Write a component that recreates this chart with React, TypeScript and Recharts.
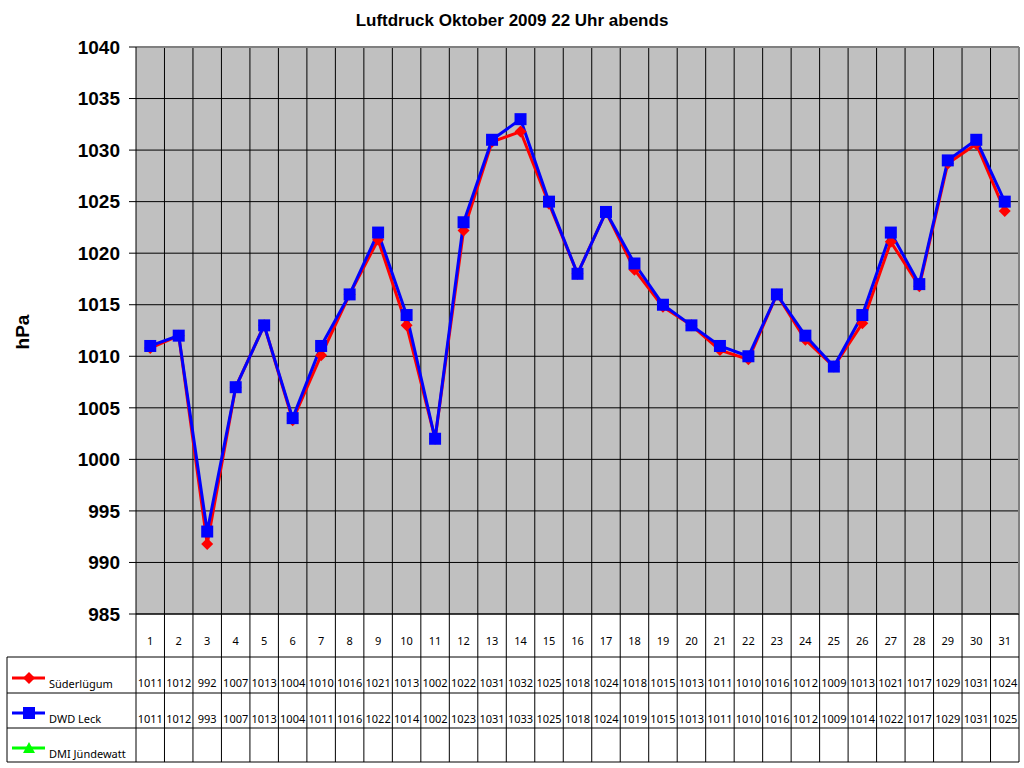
import React from 'react'
import { LineChart, Line, XAxis, YAxis, CartesianGrid, ReferenceLine } from 'recharts'

const days = [1, 2, 3, 4, 5, 6, 7, 8, 9, 10, 11, 12, 13, 14, 15, 16, 17, 18, 19, 20, 21, 22, 23, 24, 25, 26, 27, 28, 29, 30, 31]

const suederluegum = [
  1010.8, 1012, 991.8, 1007, 1013, 1003.8, 1010.1, 1016, 1021.3, 1013, 1002, 1022.2, 1030.8, 1031.8, 1024.8, 1018,
  1024, 1018.4, 1014.8, 1013, 1010.6, 1009.7, 1016, 1011.6, 1009, 1013.2, 1021.1, 1016.8, 1028.7, 1030.6, 1024.1,
]

const dwdLeck = [
  1011, 1012, 993, 1007, 1013, 1004, 1011, 1016, 1022, 1014, 1002, 1023, 1031, 1033, 1025, 1018,
  1024, 1019, 1015, 1013, 1011, 1010, 1016, 1012, 1009, 1014, 1022, 1017, 1029, 1031, 1025,
]

const dmiJuendewatt: (number | null)[] = days.map(() => null)

const yTicks = [985, 990, 995, 1000, 1005, 1010, 1015, 1020, 1025, 1030, 1035, 1040]
const dayEdges = [1.5, 2.5, 3.5, 4.5, 5.5, 6.5, 7.5, 8.5, 9.5, 10.5, 11.5, 12.5, 13.5, 14.5, 15.5, 16.5, 17.5, 18.5, 19.5, 20.5, 21.5, 22.5, 23.5, 24.5, 25.5, 26.5, 27.5, 28.5, 29.5, 30.5]

const title = 'Luftdruck Oktober 2009 22 Uhr abends'

const chartData = days.map((day, i) => ({
  day,
  suederluegum: suederluegum[i],
  dwdLeck: dwdLeck[i],
  dmiJuendewatt: dmiJuendewatt[i],
}))

const series = [
  { key: 'suederluegum', name: 'Süderlügum', color: '#ff0000', marker: 'diamond' },
  { key: 'dwdLeck', name: 'DWD Leck', color: '#0000ff', marker: 'square' },
  { key: 'dmiJuendewatt', name: 'DMI Jündewatt', color: '#00ff00', marker: 'triangle' },
]

const W = 1024
const H = 768
const PLOT_LEFT = 136
const PLOT_RIGHT = 1019
const CELL = (PLOT_RIGHT - PLOT_LEFT) / days.length
const TABLE_FONT = '"Noto Sans", sans-serif'

function Marker({ type, cx, cy, color }: { type: string; cx: number; cy: number; color: string }) {
  if (cx == null || cy == null) return null
  if (type === 'square') return <rect x={cx - 6} y={cy - 6} width={12} height={12} fill={color} />
  if (type === 'diamond')
    return <polygon points={`${cx},${cy - 6} ${cx + 6},${cy} ${cx},${cy + 6} ${cx - 6},${cy}`} fill={color} />
  return <polygon points={`${cx},${cy - 6} ${cx + 6},${cy + 5} ${cx - 6},${cy + 5}`} fill={color} />
}

// table below the plot, drawn per day from the x axis ticks
function TableTick(props: any) {
  const { x, y, index } = props
  const top = y
  const bottom = y + 148
  const rows = [top + 43, top + 79, top + 114]
  const left = x - CELL / 2
  return (
    <g>
      <line x1={left} y1={top} x2={left} y2={bottom} stroke="#000" />
      {index === days.length - 1 && <line x1={left + CELL} y1={top} x2={left + CELL} y2={bottom} stroke="#000" />}
      <text x={x} y={top + 31} textAnchor="middle" fontSize={11} fontFamily={TABLE_FONT} fill="#000">
        {days[index]}
      </text>
      <text x={x} y={top + 73} textAnchor="middle" fontSize={11} fontFamily={TABLE_FONT} fill="#000">
        {Math.round(suederluegum[index])}
      </text>
      <text x={x} y={top + 109} textAnchor="middle" fontSize={11} fontFamily={TABLE_FONT} fill="#000">
        {dwdLeck[index]}
      </text>
      {index === 0 && (
        <g>
          {rows.map((ry) => (
            <line key={ry} x1={7} y1={ry} x2={PLOT_RIGHT} y2={ry} stroke="#000" />
          ))}
          <line x1={7} y1={top + 43} x2={7} y2={bottom} stroke="#000" />
          <line x1={7} y1={bottom} x2={PLOT_RIGHT} y2={bottom} stroke="#000" />
          {series.map((s, i) => {
            const ly = top + 64 + i * 35
            return (
              <g key={s.key}>
                <line x1={12} y1={ly} x2={45} y2={ly} stroke={s.color} strokeWidth={3} />
                <Marker type={s.marker} cx={29} cy={ly} color={s.color} />
                <text x={49} y={ly + 10} fontSize={11} fontFamily={TABLE_FONT} fill="#000">
                  {s.name}
                </text>
              </g>
            )
          })}
        </g>
      )}
    </g>
  )
}

export default function App() {
  return (
    <div style={{ position: 'absolute', left: 0, top: 0, width: W, height: H, background: '#fff' }}>
      <div
        style={{
          position: 'absolute',
          top: 11,
          left: 0,
          width: W,
          textAlign: 'center',
          fontFamily: '"Liberation Sans", Arial, sans-serif',
          fontWeight: 'bold',
          fontSize: 17,
          color: '#000',
        }}
      >
        {title}
      </div>
      <div
        style={{
          position: 'absolute',
          left: 7,
          top: 332,
          transform: 'translate(-50%, -50%) rotate(-90deg)',
          transformOrigin: 'center',
          marginLeft: 16,
          fontFamily: '"Liberation Sans", Arial, sans-serif',
          fontWeight: 'bold',
          fontSize: 19,
        }}
      >
        hPa
      </div>
      <LineChart width={W} height={H} data={chartData} margin={{ top: 47, right: W - PLOT_RIGHT, bottom: 0, left: 0 }}>
        <CartesianGrid vertical={false} stroke="#000" strokeOpacity={1} fill="#c0c0c0" fillOpacity={1} />
        <XAxis
          dataKey="day"
          type="number"
          domain={[0.5, 31.5]}
          ticks={days}
          interval={0}
          height={H - 614}
          tickSize={0}
          tickMargin={0}
          tickLine={false}
          axisLine={{ stroke: '#000' }}
          tick={<TableTick />}
        />
        <YAxis
          width={PLOT_LEFT}
          domain={[985, 1040]}
          ticks={yTicks}
          interval={0}
          tickSize={7}
          tickMargin={9}
          axisLine={{ stroke: '#000' }}
          tickLine={{ stroke: '#000' }}
          tick={{ fill: '#000', fontSize: 19, fontWeight: 'bold', fontFamily: '"Liberation Sans", Arial, sans-serif' }}
        />
        {dayEdges.map((e) => (
          <ReferenceLine key={e} x={e} stroke="#000" strokeWidth={1} />
        ))}
        <ReferenceLine y={1040} stroke="#808080" strokeWidth={2} />
        <ReferenceLine x={31.5} stroke="#808080" strokeWidth={2} />
        {series.map((s) => (
          <Line
            key={s.key}
            dataKey={s.key}
            name={s.name}
            stroke={s.color}
            strokeWidth={3}
            isAnimationActive={false}
            dot={(p: any) => <Marker key={`${s.key}-${p.index}`} type={s.marker} cx={p.cx} cy={p.cy} color={s.color} />}
            activeDot={false}
          />
        ))}
      </LineChart>
    </div>
  )
}
